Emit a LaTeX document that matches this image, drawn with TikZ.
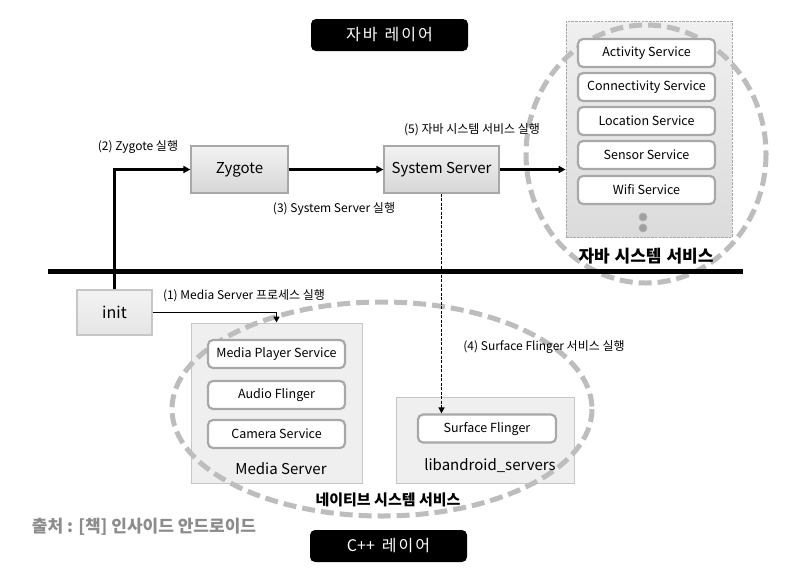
\documentclass[tikz,border=0pt]{standalone}
\usepackage{fontspec}
\setmainfont{Noto Sans CJK KR}
\usetikzlibrary{arrows.meta}
\definecolor{boxborder}{HTML}{A8A8A8}
\definecolor{contborder}{HTML}{C6C6C6}
\definecolor{contfill}{HTML}{EFEFEF}
\definecolor{ellcol}{HTML}{BDBDBD}
\definecolor{srcgray}{HTML}{8C8C8C}
\tikzset{
  procbox/.style={draw=boxborder, line width=1.2pt, top color=white!95!black, bottom color=white!84!black, minimum height=47, inner sep=0pt, font=\fontsize{15}{17}\selectfont},
  container/.style={draw=contborder, line width=1pt, fill=contfill, inner sep=0pt},
  svcbox/.style={draw=boxborder, line width=2.2pt, fill=white, rounded corners=5pt, minimum width=137, minimum height=28, inner sep=0pt, font=\fontsize{12.5}{14}\selectfont},
  layerbox/.style={fill=black, rounded corners=5pt, minimum width=157, minimum height=32, inner sep=0pt, text=white, font=\fontsize{16}{18}\selectfont},
  steplabel/.style={inner sep=0pt, font=\fontsize{12}{14}\selectfont},
  grouplabel/.style={inner sep=0pt, font=\bfseries},
  bigell/.style={draw=ellcol, line width=5pt, dash pattern=on 13pt off 6pt},
  conn/.style={draw=black, line width=2.3pt, -{Triangle[length=7pt,width=7pt]}},
  thinconn/.style={draw=black, line width=1.6pt, -{Triangle[length=6pt,width=6pt]}},
  dashconn/.style={draw=black, line width=1.7pt, dash pattern=on 3pt off 1.5pt, -{Triangle[length=6pt,width=6pt]}},
}
\begin{document}
\begin{tikzpicture}[x=1pt,y=-1pt]
\useasboundingbox[fill=white] (0,0) rectangle (787,574);

% layer tags
\node[layerbox] (javalayer) at (389.5,35) {자\kern2pt 바\kern7pt 레\kern2pt 이\kern2pt 어};
\node[layerbox] (cpplayer) at (388.5,546) {C++\kern7pt 레\kern2pt 이\kern2pt 어};

% java services group
\node[draw=boxborder, line width=0.8pt, dash pattern=on 2.5pt off 1.2pt, top color=white!94!black, bottom color=white!86!black, minimum width=166, minimum height=216, inner sep=0pt] (javac) at (649,129) {};
\draw[bigell] (646,154) ellipse [x radius=120, y radius=129];
\node[svcbox] (activity) at (646.5,53) {Activity Service};
\node[svcbox] (connect) at (646.5,87) {Connectivity Service};
\node[svcbox] (location) at (646.5,121) {Location Service};
\node[svcbox] (sensor) at (646.5,155) {Sensor Service};
\node[svcbox] (wifi) at (646.5,190) {Wifi Service};
\node[circle, fill=gray!75, draw=gray!60, line width=0.8pt, minimum size=8, inner sep=0pt] (dot1) at (643,217) {};
\node[circle, fill=gray!75, draw=gray!60, line width=0.8pt, minimum size=8, inner sep=0pt] (dot2) at (643,228) {};
\node[grouplabel, font=\bfseries\fontsize{17}{19}\selectfont] (javalbl) at (646,256) {자바\kern1pt\ 시스템\kern1pt\ 서비스};

% process boxes
\node[procbox, minimum width=97] (zygote) at (239.5,169.5) {Zygote};
\node[procbox, minimum width=115] (sys) at (441.5,169.5) {System Server};
\node[procbox, minimum width=75, minimum height=45, draw=contborder, top color=white!95!black, bottom color=white!90!black, font=\fontsize{16}{18}\selectfont] (init) at (114.5,312.5) {init};

% native containers
\node[container, minimum width=171, minimum height=160] (mediac) at (276.5,403) {};
\node[container, minimum width=178, minimum height=86] (libc) at (485,440) {};
\draw[bigell] (382,409) ellipse [x radius=210, y radius=107];
\node[svcbox] (mps) at (276.5,354) {Media Player Service};
\node[svcbox] (audio) at (276.5,395) {Audio Flinger};
\node[svcbox] (camera) at (276.5,434) {Camera Service};
\node[inner sep=0pt, font=\fontsize{15}{17}\selectfont] (medialbl) at (281,469) {Media Server};
\node[svcbox, minimum width=138] (sf) at (487,428.5) {Surface Flinger};
\node[inner sep=0pt, font=\fontsize{15}{17}\selectfont] (liblbl) at (490,466) {libandroid\_servers};
\node[grouplabel, font=\bfseries\fontsize{15}{17}\selectfont] (nativelbl) at (388,500) {네이티브 시스템 서비스};

% layer divider
\coordinate (divL) at (48,271);
\coordinate (divR) at (743,271);
\draw[line width=5pt] (divL) -- (divR);

% connectors
\draw[conn] (init.north) |- (zygote.west);
\draw[conn] (zygote.east) -- (sys.west);
\draw[conn] (sys.east) -- (sys.east -| javac.west);
\draw[thinconn] (init.east) -| (mediac.north);
\draw[dashconn] (sys.south) -- (sys.south |- sf.north);

% step labels
\node[steplabel] (l2) at (138,147) {(2) Zygote 실행};
\node[steplabel] (l3) at (334,209) {(3) System Server 실행};
\node[steplabel] (l5) at (472,130) {(5) 자바 시스템 서비스 실행};
\node[steplabel] (l1) at (244,296) {(1) Media Server 프로세스 실행};
\node[steplabel] (l4) at (544,347) {(4) Surface Flinger 서비스 실행};

% source
\node[inner sep=0pt, text=srcgray, font=\bfseries\fontsize{17}{19}\selectfont] (src) at (144,527) {출처 : [책] 인사이드 안드로이드};
\end{tikzpicture}
\end{document}
